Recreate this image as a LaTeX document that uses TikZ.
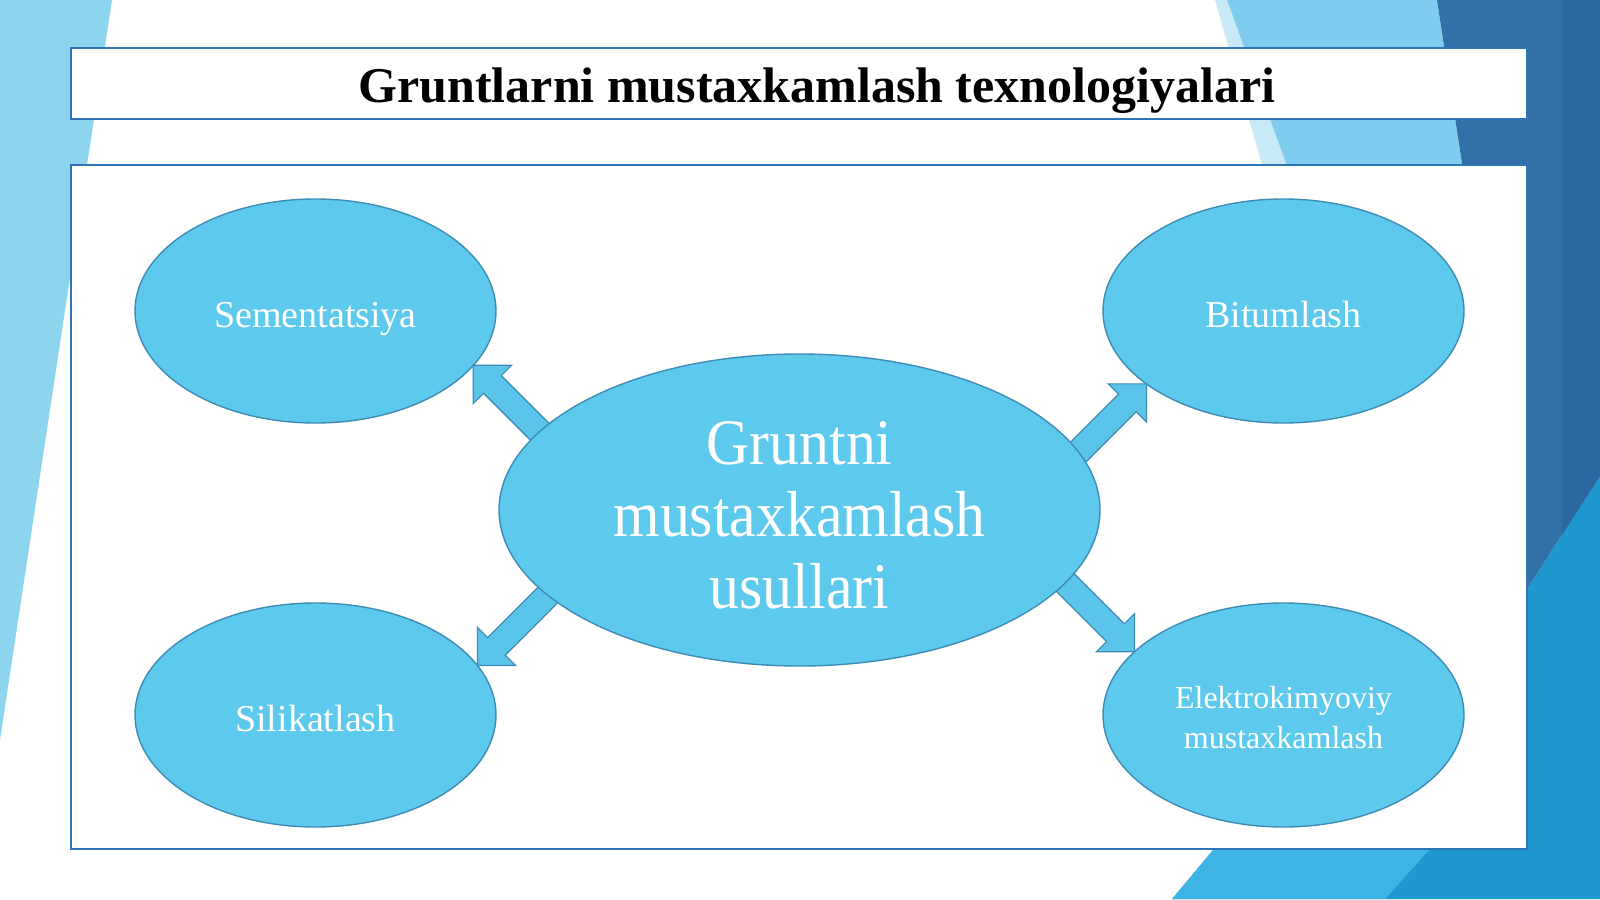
\documentclass[tikz,border=0pt]{standalone}
\usepackage{fontspec}
\setmainfont{Liberation Serif}
\newfontfamily\narrowserif[FakeStretch=0.92]{Liberation Serif}
\usetikzlibrary{positioning,shapes.geometric}

\definecolor{ovalfill}{RGB}{93,201,236}
\definecolor{ovalline}{RGB}{62,140,180}
\definecolor{arrowfill}{RGB}{90,196,234}
\definecolor{frameblue}{RGB}{46,117,182}
\definecolor{skylight}{RGB}{141,213,238}
\definecolor{skypale}{RGB}{200,234,247}
\definecolor{skymid}{RGB}{127,205,238}
\definecolor{deepblue}{RGB}{49,113,167}
\definecolor{deeperblue}{RGB}{43,103,160}
\definecolor{seablue}{RGB}{31,151,207}
\definecolor{seabright}{RGB}{62,180,229}

% block arrow: #1 tip, #2 direction
\newcommand\fatarrow[2]{%
\begin{scope}[shift={(#1)}, rotate=#2]
\draw[blockarrow] (0,0) -- (-27,27) -- (-27,12.5) -- (-140,12.5) -- (-140,-12.5) -- (-27,-12.5) -- (-27,-27) -- cycle;
\end{scope}}
% taller first line, pushes the text down a little
\newcommand\topstrut[1]{\rule{0pt}{#1}}

\begin{document}
\begin{tikzpicture}[x=0.5pt, y=-0.5pt]

\tikzset{%
every node/.style={inner sep=0pt, outer sep=0pt},%
}

\tikzstyle{frame}=[draw=frameblue, line width=1pt, fill=white, minimum width=728pt]
\tikzstyle{method}=[anchor=center, ellipse, draw=ovalline, line width=.7pt, fill=ovalfill, text=white, minimum width=180.5pt, minimum height=112pt, align=center, text height=16pt, text depth=0pt, font=\fontsize{19pt}{23pt}\selectfont]
\tikzstyle{hub}=[ellipse, draw=ovalline, line width=.7pt, fill=ovalfill, text=white, minimum width=300.5pt, minimum height=156pt, align=center, font=\narrowserif\fontsize{32.5pt}{36pt}\selectfont]
\tikzstyle{blockarrow}=[draw=ovalline, line width=.6pt, fill=arrowfill]

% background
\useasboundingbox (0,0) rectangle (1600,899);
\fill[white] (0,0) rectangle (1600,899);
\fill[skylight] (0,0) -- (112,0) -- (0,740) -- cycle;
\fill[skypale] (1215,0) -- (1227,0) -- (1287,165) -- (1262,165) -- cycle;
\fill[skymid] (1227,0) -- (1437,0) -- (1527,589) -- (1440,589) -- cycle;
\fill[seablue] (1172,899) -- (1214,849) -- (1527,589) -- (1600,476) -- (1600,899) -- cycle;
\fill[seabright] (1172,899) -- (1214,849) -- (1430,849) -- (1385,899) -- cycle;
\fill[deepblue] (1437,0) -- (1600,0) -- (1600,476) -- (1527,589) -- cycle;
\fill[deeperblue] (1562,0) -- (1600,0) -- (1600,476) -- (1562,535) -- cycle;

% frames
\node[frame, minimum height=35.5pt] (head) at (799,83.5) {};
\node[frame, minimum height=342pt] (board) at (799,507) {};
\node[anchor=base, font=\bfseries\fontsize{25pt}{30pt}\selectfont] (title) at (817,103) {Gruntlarni mustaxkamlash texnologiyalari};

% methods
\coordinate (mid) at (799.5,510);
\node[above left=99.5pt and 242pt of mid, method] (sement) {Sementatsiya};
\node[above right=99.5pt and 242pt of mid, method] (bitum) {Bitumlash};
\node[below left=102.5pt and 242pt of mid, method] (silik) {Silikatlash};
\node[below right=102.5pt and 242pt of mid, method, text height=, text depth=, font=\fontsize{16pt}{20pt}\selectfont] (elektro) {\topstrut{14pt}Elektrokimyoviy\\mustaxkamlash};

\fatarrow{sement.-19}{135}
\fatarrow{bitum.208}{45}
\fatarrow{silik.17}{225}
\fatarrow{elektro.157}{-45}

\node[hub] (hub) at (mid) {\topstrut{27pt}Gruntni\\mustaxkamlash\\usullari};

\end{tikzpicture}
\end{document}
